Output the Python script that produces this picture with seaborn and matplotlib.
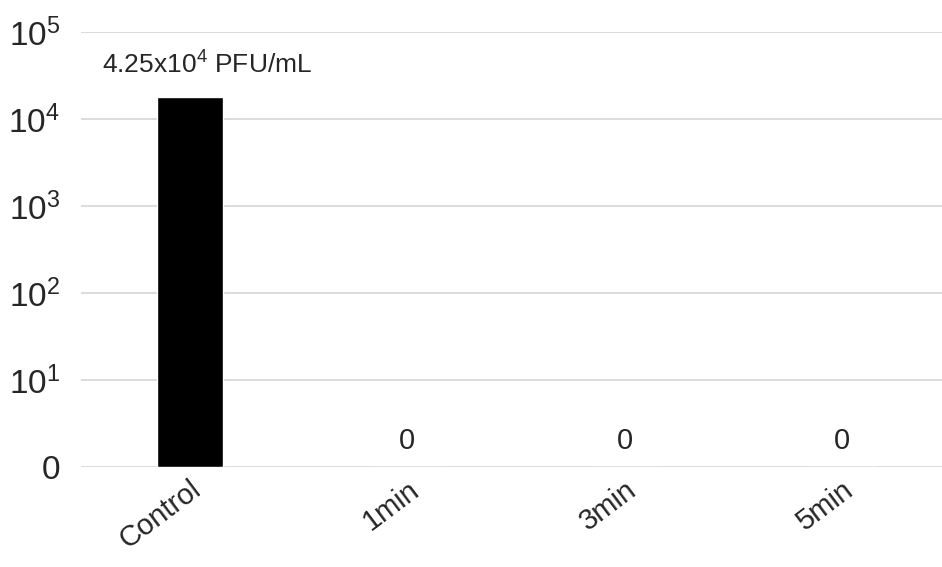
import numpy as np
import pandas as pd
import matplotlib
matplotlib.use('Agg')
import matplotlib.pyplot as plt
import seaborn as sns

# data (heights in log10 decades as drawn on the chart)
categories = ['Control', '1min', '3min', '5min']
log_titer = [4.25, 0, 0, 0]
bar_labels = [r'4.25x$\mathregular{10^{4}}$ PFU/mL', '0', '0', '0']
y_ticks = [0, 1, 2, 3, 4, 5]
y_tick_labels = ['0', r'$\mathregular{10^{1}}$', r'$\mathregular{10^{2}}$',
                 r'$\mathregular{10^{3}}$', r'$\mathregular{10^{4}}$', r'$\mathregular{10^{5}}$']

df = pd.DataFrame({'group': categories, 'titer': log_titer})

sns.set_style('white')
plt.rcParams['font.family'] = ['Liberation Sans', 'DejaVu Sans']
plt.rcParams['mathtext.fontset'] = 'custom'
plt.rcParams['mathtext.rm'] = 'Liberation Sans'
plt.rcParams['mathtext.it'] = 'Liberation Sans:italic'

fig = plt.figure(figsize=(9.42, 5.67), dpi=100)
ax = fig.add_axes([81 / 942, 100 / 567, 870 / 942, 435 / 567])

sns.barplot(data=df, x='group', y='titer', color='black', width=0.305,
            saturation=1, ax=ax, zorder=3)

ax.set_ylim(0, 5)
ax.set_xlim(-0.5, 3.5)
ax.set_yticks(y_ticks)
ax.set_yticklabels(y_tick_labels, fontsize=24)
ax.yaxis.grid(True, color='#d9d9d9', linewidth=1.3, zorder=0)
ax.set_axisbelow(True)
for s in ax.spines.values():
    s.set_visible(False)
ax.tick_params(axis='both', length=0)
ax.tick_params(axis='y', pad=15)
ax.set_xlabel('')
ax.set_ylabel('')

ax.set_xticks(range(len(categories)))
ax.set_xticklabels(categories, fontsize=21, rotation=37, ha='right',
                   rotation_mode='anchor')
ax.tick_params(axis='x', pad=6)

# value labels
for i, (v, txt) in enumerate(zip(log_titer, bar_labels)):
    if i == 0:
        ax.text(i + 0.08, v + 0.22, txt, ha='center', va='bottom', fontsize=19)
    else:
        ax.text(i, v + 0.3, txt, ha='center', va='center', fontsize=21)

fig.savefig('out.png', dpi=100)
